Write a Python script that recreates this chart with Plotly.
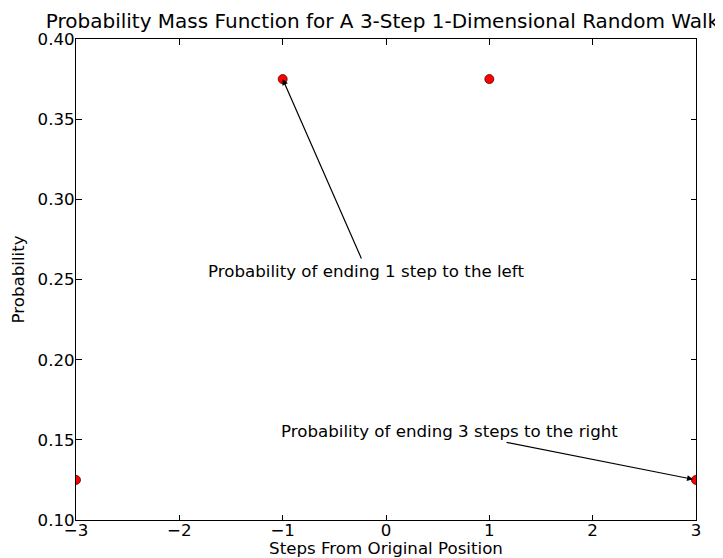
import plotly.graph_objects as go

steps = [-3, -1, 1, 3]
probs = [0.125, 0.375, 0.375, 0.125]
x_ticks = [-3, -2, -1, 0, 1, 2, 3]
x_tick_labels = ["\u22123", "\u22122", "\u22121", "0", "1", "2", "3"]
y_ticks = [0.10, 0.15, 0.20, 0.25, 0.30, 0.35, 0.40]
y_tick_labels = ["0.10", "0.15", "0.20", "0.25", "0.30", "0.35", "0.40"]

FONT = "DejaVu Sans"
FS = 16.67
OFF = 8  # page body margin
W, H = 723 - OFF, 558 - OFF

fig = go.Figure()
fig.add_trace(go.Scatter(
    x=steps, y=probs, mode="markers",
    marker=dict(color="#ff0000", size=9, line=dict(color="#550000", width=0.8)),
    cliponaxis=True, showlegend=False,
))

# annotation 1: text + arrow
fig.add_annotation(x=-0.19, y=0.2553, text="Probability of ending 1 step to the left",
                   showarrow=False, font=dict(family=FONT, size=FS, color="black"),
                   xanchor="center", yanchor="middle")
fig.add_annotation(x=steps[1], y=probs[1], ax=-0.232, ay=0.2622, axref="x", ayref="y",
                   text="", showarrow=True, arrowhead=2, arrowsize=1, arrowwidth=1.2,
                   arrowcolor="black", standoff=0)
# annotation 2
fig.add_annotation(x=0.61, y=0.1549, text="Probability of ending 3 steps to the right",
                   showarrow=False, font=dict(family=FONT, size=FS, color="black"),
                   xanchor="center", yanchor="middle")
fig.add_annotation(x=steps[3], y=probs[3], ax=1.152, ay=0.1486, axref="x", ayref="y",
                   text="", showarrow=True, arrowhead=2, arrowsize=1, arrowwidth=1.2,
                   arrowcolor="black", standoff=3)

axis_common = dict(
    showgrid=False, zeroline=False, showline=True, linecolor="black", linewidth=1,
    mirror="ticks", ticks="inside", ticklen=5.5, tickcolor="black", tickwidth=1,
    tickfont=dict(family=FONT, size=FS, color="black"), automargin=False,
)
fig.update_xaxes(range=[-3, 3], tickvals=x_ticks, ticktext=x_tick_labels,
                 ticklabelstandoff=-5,
                 title=dict(text="Steps From Original Position", font=dict(family=FONT, size=FS, color="black"), standoff=4),
                 **axis_common)
fig.update_yaxes(range=[0.10, 0.40], tickvals=y_ticks, ticktext=y_tick_labels,
                 ticklabelstandoff=-3,
                 title=dict(text="Probability", font=dict(family=FONT, size=FS, color="black"), standoff=8),
                 **axis_common)

fig.update_layout(
    width=W, height=H,
    margin=dict(l=76 - OFF, r=27, t=39 - OFF, b=38),
    paper_bgcolor="white", plot_bgcolor="white",
    title=dict(text="Probability Mass Function for A 3-Step 1-Dimensional Random Walk",
               font=dict(family=FONT, size=20, color="black"),
               x=((47 + 718) / 2 - OFF) / W, xanchor="center", y=1 - (21 - OFF) / H, yanchor="middle"),
    font=dict(family=FONT),
)

fig.write_html("out.html")
